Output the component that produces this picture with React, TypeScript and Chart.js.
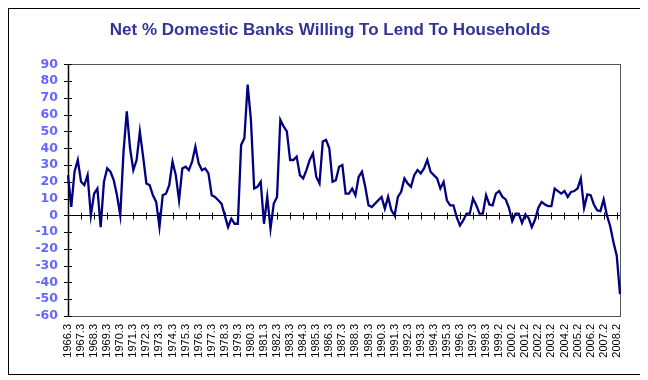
import React, { useEffect, useRef } from "react";
import { Chart, registerables } from "chart.js";

Chart.register(...registerables);

const TITLE = "Net % Domestic Banks Willing To Lend To Households";

const tickLabels = [
  "1966.3", "1967.3", "1968.3", "1969.3", "1970.3", "1971.3", "1972.3", "1973.3",
  "1974.3", "1975.3", "1976.3", "1977.3", "1978.3", "1979.3", "1980.3", "1981.3",
  "1982.3", "1983.3", "1984.3", "1985.3", "1986.3", "1987.3", "1988.3", "1989.3",
  "1990.3", "1991.3", "1992.3", "1993.3", "1994.3", "1995.3", "1996.3", "1997.3",
  "1998.3", "1999.2", "2000.2", "2001.2", "2002.2", "2003.2", "2004.2", "2005.2",
  "2006.2", "2007.2", "2008.2",
];

const values = [
  24, 5, 26, 33, 20, 18, 24, 0, 13, 16,
  -7, 20, 28, 26, 21, 12, 0, 38, 62, 40,
  27, 33, 50, 35, 19, 18, 12, 8, -7, 12,
  13, 18, 32, 24, 9, 28, 29, 27, 32, 41,
  31, 27, 28, 25, 12, 11, 9, 7, 0, -7,
  -2, -5, -5, 42, 46, 78, 57, 16, 17, 20,
  -5, 11, -8, 7, 11, 57, 53, 50, 33, 33,
  35, 24, 22, 27, 33, 37, 23, 19, 44, 45,
  40, 20, 21, 29, 30, 13, 13, 16, 12, 23,
  26, 17, 6, 5, 7, 9, 11, 4, 11, 3,
  0, 11, 14, 22, 19, 17, 24, 27, 25, 28,
  33, 26, 24, 22, 16, 20, 9, 6, 6, -1,
  -6, -3, 1, 1, 10, 6, 1, 1, 12, 6.5,
  6, 13, 14.5, 11, 9.5, 4.5, -3.5, 1, 1, -4.5,
  0.5, -1.5, -7, -2.5, 4.5, 8, 6.5, 5.5, 5.5, 16,
  14.5, 13, 14.5, 11, 14, 14.5, 16, 22, 4.5, 12.5,
  12, 6.5, 3, 2.5, 9.5, 0, -6.5, -16, -24, -47,
];

const LABEL_EVERY = 4;
const Y_MIN = -60;
const Y_MAX = 90;
const Y_STEP = 10;

const categories = values.map((_, i) =>
  i % LABEL_EVERY === 0 ? tickLabels[i / LABEL_EVERY] ?? "" : ""
);

const framePlugin = {
  id: "framePlugin",
  beforeDatasetsDraw(chart: any) {
    const { ctx, chartArea } = chart;
    const xs = chart.scales.x;
    const ys = chart.scales.y;
    const { left, right, top, bottom } = chartArea;
    ctx.save();
    ctx.strokeStyle = "#555555";
    ctx.lineWidth = 1;
    ctx.strokeRect(Math.round(left) + 0.5, Math.round(top) + 0.5, Math.round(right - left), Math.round(bottom - top));
    ctx.strokeStyle = "#000000";
    ctx.lineWidth = 1.5;
    ctx.beginPath();
    ctx.moveTo(Math.round(left) + 0.5, top);
    ctx.lineTo(Math.round(left) + 0.5, bottom);
    ctx.stroke();
    ctx.lineWidth = 1;
    for (let v = Y_MIN; v <= Y_MAX; v += Y_STEP) {
      const y = Math.round(ys.getPixelForValue(v)) + 0.5;
      ctx.beginPath();
      ctx.moveTo(left - 4, y);
      ctx.lineTo(left + 4, y);
      ctx.stroke();
    }
    const y0 = Math.round(ys.getPixelForValue(0)) + 0.5;
    ctx.beginPath();
    ctx.moveTo(left, y0);
    ctx.lineTo(right, y0);
    ctx.stroke();
    for (let i = LABEL_EVERY; i < values.length; i += LABEL_EVERY) {
      const x = Math.round(xs.getPixelForValue(i)) + 0.5;
      ctx.beginPath();
      ctx.moveTo(x, y0 - 3);
      ctx.lineTo(x, y0 + 4);
      ctx.stroke();
    }
    ctx.restore();
  },
};

export default function App() {
  const ref = useRef<HTMLCanvasElement | null>(null);

  useEffect(() => {
    if (!ref.current) return;
    const chart = new Chart(ref.current, {
      type: "line",
      data: {
        labels: categories,
        datasets: [
          {
            data: values,
            borderColor: "#000080",
            borderWidth: 2.3,
            pointRadius: 0,
            tension: 0,
            fill: false,
            yAxisID: "y",
          },
        ],
      },
      options: {
        responsive: false,
        animation: false,
        layout: { padding: { left: 8, right: 0, top: 0, bottom: 0 } },
        plugins: {
          legend: { display: false },
          tooltip: { enabled: false },
          title: {
            display: true,
            text: TITLE,
            color: "#333399",
            font: { family: "'Liberation Sans', Arial, sans-serif", size: 17, weight: "bold" },
            padding: { top: 11, bottom: 24 },
          },
        },
        scales: {
          x: {
            type: "category",
            offset: false,
            grid: { display: false, drawTicks: false },
            border: { display: false },
            ticks: {
              autoSkip: false,
              minRotation: 90,
              maxRotation: 90,
              padding: 8,
              color: "#000000",
              font: { family: "'Liberation Sans', Arial, sans-serif", size: 11 },
            },
            afterFit: (s: any) => {
              s.height = 58;
            },
          },
          y: {
            type: "linear",
            position: "left",
            min: Y_MIN,
            max: Y_MAX,
            grid: { display: false, drawTicks: false },
            border: { display: false },
            ticks: {
              stepSize: Y_STEP,
              autoSkip: false,
              padding: 10,
              color: "#6666ff",
              font: { family: "'DejaVu Sans', sans-serif", size: 12.5, weight: "bold" },
            },
            afterFit: (s: any) => {
              s.width = 51;
            },
          },
          yr: {
            type: "linear",
            position: "right",
            display: true,
            grid: { display: false, drawTicks: false },
            border: { display: false },
            ticks: { display: false },
            afterFit: (s: any) => {
              s.width = 23;
            },
          },
        },
      },
      plugins: [framePlugin],
    });
    return () => chart.destroy();
  }, []);

  return (
    <div
      style={{
        width: 634,
        height: 365,
        border: "1px solid #000",
        boxShadow: "2px 2px 0 #000",
        background: "#fff",
      }}
    >
      <canvas ref={ref} width={634} height={365} style={{ display: "block", width: 634, height: 365 }} />
    </div>
  );
}
